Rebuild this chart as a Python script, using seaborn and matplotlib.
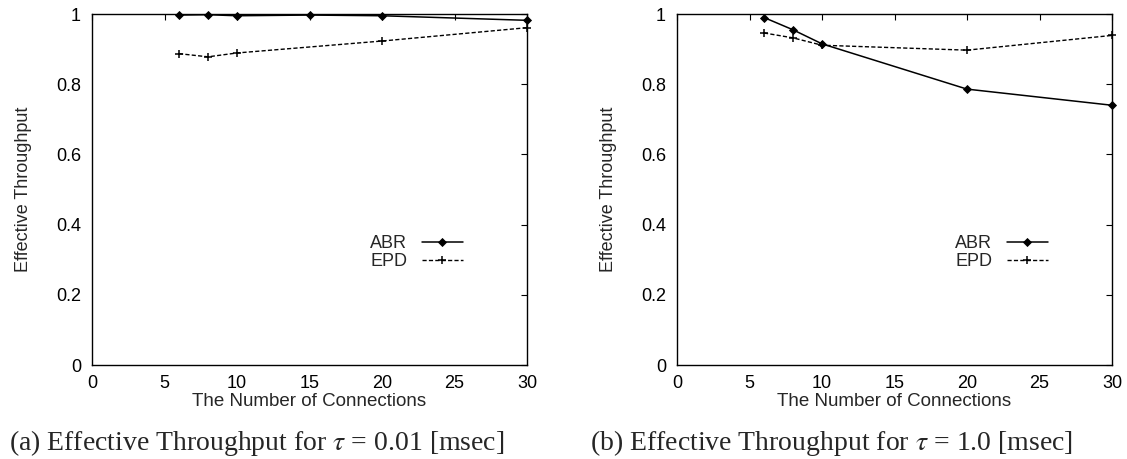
import numpy as np
import pandas as pd
import matplotlib
matplotlib.use("Agg")
import matplotlib.pyplot as plt
import seaborn as sns

# Number of connections at which each scheme was simulated
conns = [6, 8, 10, 15, 20, 30]
conns_epd_a = [6, 8, 10, 20, 30]
conns_b = [6, 8, 10, 20, 30]

# (a) tau = 0.01 msec
abr_a = [0.997, 0.998, 0.995, 0.997, 0.995, 0.982]
epd_a = [0.887, 0.878, 0.889, 0.923, 0.961]

# (b) tau = 1.0 msec
abr_b = [0.990, 0.955, 0.915, 0.786, 0.740]
epd_b = [0.946, 0.932, 0.911, 0.897, 0.939]

x_ticks = [0, 5, 10, 15, 20, 25, 30]
y_ticks = [0, 0.2, 0.4, 0.6, 0.8, 1.0]
y_ticklabels = ["0", "0.2", "0.4", "0.6", "0.8", "1"]

captions = [
    r"(a) Effective Throughput for $\tau$ = 0.01 [msec]",
    r"(b) Effective Throughput for $\tau$ = 1.0 [msec]",
]

sns.set_theme(style="white")
plt.rcParams["font.family"] = ["Liberation Sans", "DejaVu Sans"]
plt.rcParams["mathtext.fontset"] = "stix"

fig = plt.figure(figsize=(11.27, 4.59), dpi=100)
W, H = 1127, 459
ax_a = fig.add_axes([92 / W, 1 - 365 / H, 435 / W, 351 / H])
ax_b = fig.add_axes([677 / W, 1 - 365 / H, 435 / W, 351 / H])

panels = [
    (ax_a, conns, abr_a, conns_epd_a, epd_a),
    (ax_b, conns_b, abr_b, conns_b, epd_b),
]

for ax, xa, ya, xe, ye in panels:
    df_abr = pd.DataFrame({"conn": xa, "thr": ya})
    df_epd = pd.DataFrame({"conn": xe, "thr": ye})
    sns.lineplot(data=df_abr, x="conn", y="thr", ax=ax, color="black",
                 linewidth=1.1, marker="D", markersize=3.6,
                 markeredgewidth=0.6, markeredgecolor="black",
                 markerfacecolor="black", label="ABR", clip_on=False,
                 zorder=3)
    sns.lineplot(data=df_epd, x="conn", y="thr", ax=ax, color="black",
                 linewidth=1.0, marker="+", markersize=5.5,
                 markeredgewidth=1.1, markeredgecolor="black",
                 dashes=(3, 1.6), label="EPD", clip_on=False, zorder=3)
    ax.set_xlim(0, 30)
    ax.set_ylim(0, 1)
    ax.set_xticks(x_ticks)
    ax.set_yticks(y_ticks)
    ax.set_yticklabels(y_ticklabels)
    ax.tick_params(direction="in", length=4, width=0.8, top=True, right=True,
                   labelsize=13, pad=8, colors="black")
    ax.tick_params(axis="x", pad=7)
    for s in ax.spines.values():
        s.set_visible(True)
        s.set_color("black")
        s.set_linewidth(1.0)
    ax.set_xlabel("The Number of Connections", fontsize=13.5, labelpad=1)
    ax.set_ylabel("Effective Throughput", fontsize=13, labelpad=17)
    leg = ax.legend(loc="upper right", bbox_to_anchor=(0.87, 0.39),
                    frameon=False, markerfirst=False, fontsize=13,
                    handlelength=2.3, handletextpad=0.8, labelspacing=0.05,
                    borderaxespad=0)

fig.text(257 / W, 1 - 450 / H, captions[0], family="Liberation Serif",
         fontsize=20, ha="center", va="baseline")
fig.text(832 / W, 1 - 450 / H, captions[1], family="Liberation Serif",
         fontsize=20, ha="center", va="baseline")

fig.savefig("out.png", dpi=100, facecolor="white")
